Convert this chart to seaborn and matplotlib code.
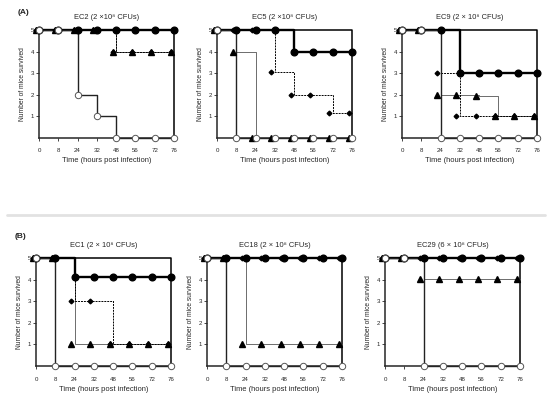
import matplotlib
matplotlib.use('Agg')
import matplotlib.pyplot as plt
import matplotlib.transforms as mtransforms
import seaborn as sns

sns.set_style('ticks')
plt.rcParams['font.family'] = ['Liberation Sans', 'DejaVu Sans']

# Time points (plotted equally spaced, as in the original)
times = ['0', '8', '24', '32', '48', '56', '72', '76']

titles = ['EC2 (2 \u00d710\u2078 CFUs)', 'EC5 (2 \u00d710\u2078 CFUs)', 'EC9 (2 \u00d7 10\u2078 CFUs)',
          'EC1 (2 \u00d7 10\u2078 CFUs)', 'EC18 (2 \u00d7 10\u2078 CFUs)', 'EC29 (6 \u00d7 10\u2078 CFUs)']

# Survivors per group at each time point
filled_circle = [
    [5, 5, 5, 5, 5, 5, 5, 5],
    [5, 5, 5, 5, 4, 4, 4, 4],
    [5, 5, 5, 3, 3, 3, 3, 3],
    [5, 5, 4.1, 4.1, 4.1, 4.1, 4.1, 4.1],
    [5, 5, 5, 5, 5, 5, 5, 5],
    [5, 5, 5, 5, 5, 5, 5, 5],
]
diamond = [
    [5, 5, 5, 5, 4, 4, 4, 4],
    [5, 5, 5, 3.05, 2, 1.97, 1.15, 1.15],
    [5, 5, 3, 1, 1, 1, 1, 1],
    [5, 5, 3, 3, 1, 1, 1, 1],
    [5, 5, 5, 5, 5, 5, 5, 5],
    [5, 5, 5, 5, 5, 5, 5, 5],
]
triangle = [
    [5, 5, 5, 5, 4, 4, 4, 4],
    [5, 4, 0, 0, 0, 0, 0, 0],
    [5, 5, 2, 2, 1.95, 1, 1, 1],
    [5, 5, 1, 1, 1, 1, 1, 1],
    [5, 5, 1, 1, 1, 1, 1, 1],
    [5, 5, 4.05, 4.05, 4.05, 4.05, 4.05, 4.05],
]
open_circle = [
    [5, 5, 2, 1, 0, 0, 0, 0],
    [5, 0, 0, 0, 0, 0, 0, 0],
    [5, 5, 0, 0, 0, 0, 0, 0],
    [5, 0, 0, 0, 0, 0, 0, 0],
    [5, 0, 0, 0, 0, 0, 0, 0],
    [5, 5, 0, 0, 0, 0, 0, 0],
]
# end-of-study line (all panels)
end_line = [5, 5, 5, 5, 5, 5, 5, 0]

W, H = 550, 394
fig = plt.figure(figsize=(W / 100, H / 100), dpi=100)

# axes boxes in pixels: left, right, top, bottom
boxes = [
    (39, 174, 30, 138), (217, 352, 30, 138), (402, 537, 30, 138),
    (36, 171, 258, 366), (207, 342, 258, 366), (385, 520, 258, 366),
]

pos = list(range(len(times)))


def markers(ax, y, dx, **kw):
    tr = ax.transData + mtransforms.ScaledTranslation(dx / 72, 0, fig.dpi_scale_trans)
    ax.plot(pos, y, linestyle='none', transform=tr, clip_on=False, zorder=5, **kw)


for i, (l, r, t, b) in enumerate(boxes):
    ax = fig.add_axes([l / W, 1 - b / H, (r - l) / W, (b - t) / H])

    sns.lineplot(x=pos, y=end_line, drawstyle='steps-post', color='black', lw=1.1, ax=ax, clip_on=False)
    sns.lineplot(x=pos, y=triangle[i], drawstyle='steps-post', color='#555555', lw=0.6, ax=ax, clip_on=False)
    sns.lineplot(x=pos, y=diamond[i], drawstyle='steps-post', color='black', lw=0.7,
                 linestyle=(0, (2, 1)), ax=ax, clip_on=False)
    sns.lineplot(x=pos, y=filled_circle[i], drawstyle='steps-post', color='black', lw=1.7, ax=ax, clip_on=False)
    sns.lineplot(x=pos, y=open_circle[i], drawstyle='steps-post', color='#222222', lw=1.0, ax=ax, clip_on=False)

    markers(ax, triangle[i], -2.5, marker='^', ms=3.8, color='black')
    markers(ax, diamond[i], -2.5, marker='D', ms=2.4, color='black')
    markers(ax, filled_circle[i], 0, marker='o', ms=4.8, color='black')
    markers(ax, open_circle[i], 0, marker='o', ms=4.6, markerfacecolor='white',
            markeredgecolor='#555555', markeredgewidth=0.7)

    ax.set_xlim(0, 7)
    ax.set_ylim(0, 5)
    ax.set_xticks(pos)
    ax.set_xticklabels(times)
    ax.set_yticks([1, 2, 3, 4, 5])
    ax.tick_params(labelsize=4.4, length=2, width=0.6, pad=5 if i < 3 else 6)
    ax.tick_params(axis='y', pad=1.5)
    for s in ['top', 'right']:
        ax.spines[s].set_visible(False)
    for s in ['left', 'bottom']:
        ax.spines[s].set_linewidth(1.1)
    ax.set_title(titles[i], fontsize=5.4, pad=8)
    ax.set_xlabel('Time (hours post infection)', fontsize=5.4, labelpad=3)
    ax.set_ylabel('Number of mice survived', fontsize=4.8, labelpad=3)

fig.text(18 / W, 1 - 13 / H, '(A)', fontsize=6, fontweight='bold', va='center')
fig.text(15 / W, 1 - 237 / H, '(B)', fontsize=6, fontweight='bold', va='center')
fig.add_artist(plt.Line2D([7 / W, 545 / W], [1 - 215 / H, 1 - 215 / H], color='#e2e2e2', lw=2))

fig.savefig('out.png', dpi=100)
